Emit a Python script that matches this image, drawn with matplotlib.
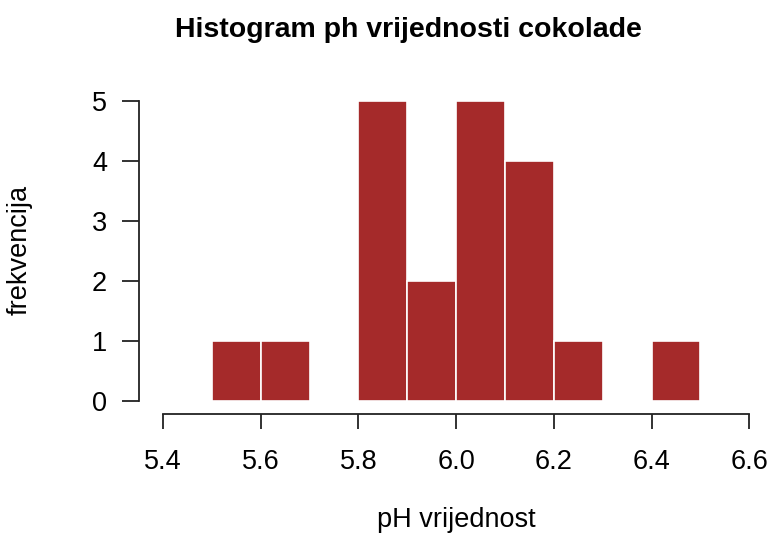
import numpy as np
import matplotlib.pyplot as plt

# histogram data
breaks = [5.5, 5.6, 5.7, 5.8, 5.9, 6.0, 6.1, 6.2, 6.3, 6.4, 6.5]
counts = [1, 1, 0, 5, 2, 5, 4, 1, 0, 1]
x_ticks = [5.4, 5.6, 5.8, 6.0, 6.2, 6.4, 6.6]
y_ticks = [0, 1, 2, 3, 4, 5]

plt.rcParams["font.family"] = ["Liberation Sans", "DejaVu Sans"]

W, H = 771, 533
fig = plt.figure(figsize=(W / 100, H / 100), dpi=100)

# plot region in pixels (R-style layout)
left, right, top, bottom = 139, 771, 89, 414
ax = fig.add_axes([left / W, (H - bottom) / H, (right - left) / W, (bottom - top) / H])

px_per_x = 488.5
x0 = 5.4 - (163 - left) / px_per_x
x1 = 5.4 + (right - 163) / px_per_x
ax.set_xlim(x0, x1)
px_per_y = 60.0
ax.set_ylim(-(bottom - 401) / px_per_y, 5 + (101 - top) / px_per_y)

edges = np.array(breaks)
ax.bar(edges[:-1], counts, width=np.diff(edges), align="edge",
       color="brown", edgecolor="white", linewidth=1.2)

for s in ["top", "right"]:
    ax.spines[s].set_visible(False)
ax.spines["left"].set_bounds(y_ticks[0], y_ticks[-1])
ax.spines["bottom"].set_bounds(x_ticks[0], x_ticks[-1])
for s in ["left", "bottom"]:
    ax.spines[s].set_color("#222222")
    ax.spines[s].set_linewidth(1.3)

ax.set_xticks(x_ticks)
ax.set_xticklabels([f"{v:.1f}" for v in x_ticks])
ax.set_yticks(y_ticks)
ax.tick_params(axis="x", length=11, width=1.3, color="#222222", pad=14, labelsize=19.5)
ax.tick_params(axis="y", length=12, width=1.3, color="#222222", pad=11, labelsize=19.5)

fig.text(408 / W, 1 - 30 / H, "Histogram ph vrijednosti cokolade",
         ha="center", va="center", fontsize=20.5, fontweight="bold")
fig.text(456 / W, 1 - 520 / H, "pH vrijednost", ha="center", va="center", fontsize=19.5)
fig.text(20 / W, 1 - 250 / H, "frekvencija", ha="center", va="center",
         rotation=90, fontsize=19.5)

fig.savefig("out.png", dpi=100)
